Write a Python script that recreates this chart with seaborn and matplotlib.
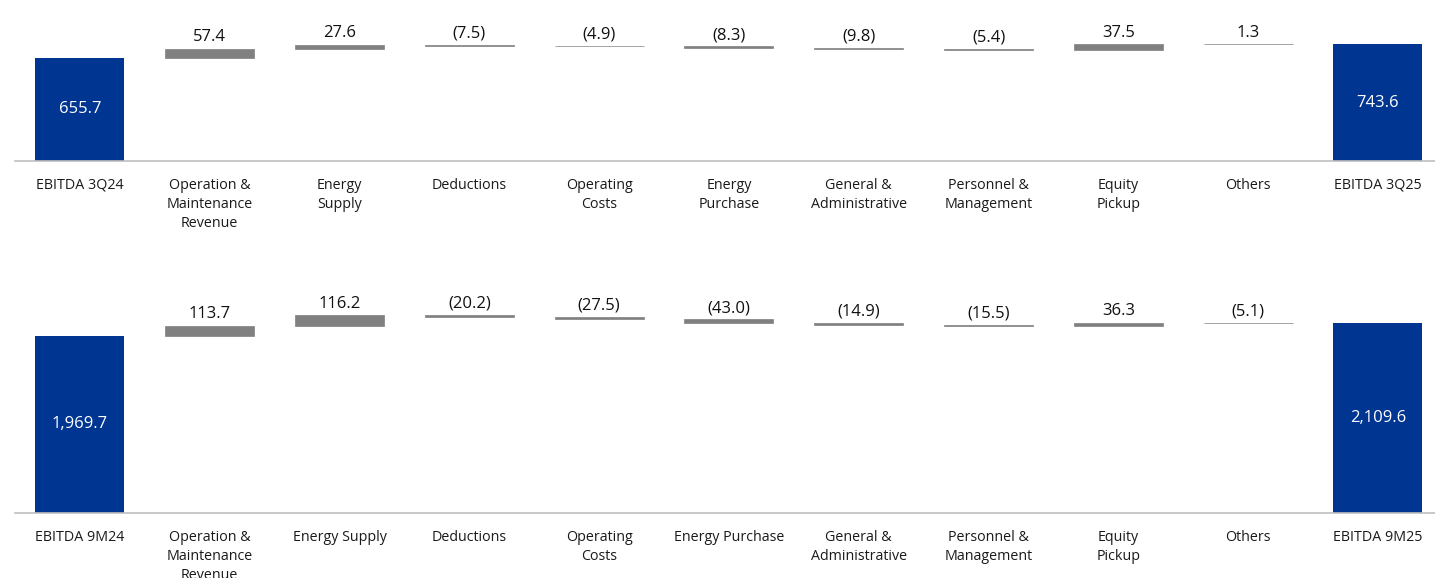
import matplotlib
matplotlib.use("Agg")
import matplotlib.pyplot as plt
import seaborn as sns
import numpy as np
import pandas as pd

# ---- data ----
cats_3q = ["EBITDA 3Q24", "Operation &\nMaintenance\nRevenue", "Energy\nSupply", "Deductions",
           "Operating\nCosts", "Energy\nPurchase", "General &\nAdministrative",
           "Personnel &\nManagement", "Equity\nPickup", "Others", "EBITDA 3Q25"]
vals_3q = [655.7, 57.4, 27.6, -7.5, -4.9, -8.3, -9.8, -5.4, 37.5, 1.3, 743.6]

cats_9m = ["EBITDA 9M24", "Operation &\nMaintenance\nRevenue", "Energy Supply", "Deductions",
           "Operating\nCosts", "Energy Purchase", "General &\nAdministrative",
           "Personnel &\nManagement", "Equity\nPickup", "Others", "EBITDA 9M25"]
vals_9m = [1969.7, 113.7, 116.2, -20.2, -27.5, -43.0, -14.9, -15.5, 36.3, -5.1, 2109.6]

BLUE = "#003591"
GRAY = "#808080"
LINE = "#BFBFBF"

sns.set_theme(style="white")
plt.rcParams["font.family"] = ["Open Sans", "DejaVu Sans"]

W, H = 1435, 578
fig = plt.figure(figsize=(W / 100, H / 100), dpi=100)


def fmt_delta(v):
    return f"({abs(v):,.1f})" if v < 0 else f"{v:,.1f}"


def waterfall(ax, cats, vals, ytop):
    n = len(vals)
    lows, highs = [], []
    cum = 0.0
    for i, v in enumerate(vals):
        if i == 0 or i == n - 1:
            lows.append(0.0)
            highs.append(v)
            cum = v
        else:
            new = cum + v
            lows.append(min(cum, new))
            highs.append(max(cum, new))
            cum = new
    df = pd.DataFrame({"cat": cats, "height": np.array(highs) - np.array(lows)})
    sns.barplot(data=df, x="cat", y="height", order=cats, bottom=np.array(lows),
                color=GRAY, saturation=1, width=0.686, ax=ax,
                edgecolor=GRAY, linewidth=0.5)
    patches = ax.patches
    for i, p in enumerate(patches):
        if i == 0 or i == n - 1:
            p.set_facecolor(BLUE)
            p.set_edgecolor(BLUE)
            p.set_linewidth(0)
    # labels
    total_labels = [f"{vals[0]:,.1f}"] + [""] * (n - 2) + [f"{vals[-1]:,.1f}"]
    delta_labels = [""] + [fmt_delta(v) for v in vals[1:-1]] + [""]
    cont = ax.containers[0]
    ax.bar_label(cont, labels=total_labels, label_type="center", color="white", fontsize=12)
    ax.bar_label(cont, labels=delta_labels, label_type="edge", padding=2.5, color="#111111", fontsize=12)

    ax.set_xlim(-0.5, n - 0.5)
    ax.set_ylim(0, ytop)
    ax.set_xlabel("")
    ax.set_ylabel("")
    ax.set_yticks([])
    for s in ["left", "top", "right"]:
        ax.spines[s].set_visible(False)
    ax.spines["bottom"].set_color(LINE)
    ax.spines["bottom"].set_linewidth(1.2)
    ax.tick_params(axis="x", length=0, pad=12, labelsize=10.3, labelcolor="#1a1a1a")
    for t in ax.get_xticklabels():
        t.set_linespacing(1.4)
        t.set_verticalalignment("top")


ax_w = 11 * 129.8
# top panel: baseline y=161 px, scale 6.36 units / px, axes top at y=0
ax1 = fig.add_axes([15 / W, (H - 161) / H, ax_w / W, 161 / H])
waterfall(ax1, cats_3q, vals_3q, 161 * 6.36)

# bottom panel: baseline y=513 px, scale 11.12 units / px, axes top at y=290
ax2 = fig.add_axes([15 / W, (H - 513) / H, ax_w / W, 223 / H])
waterfall(ax2, cats_9m, vals_9m, 223 * 11.12)

fig.savefig("out.png", dpi=100)
